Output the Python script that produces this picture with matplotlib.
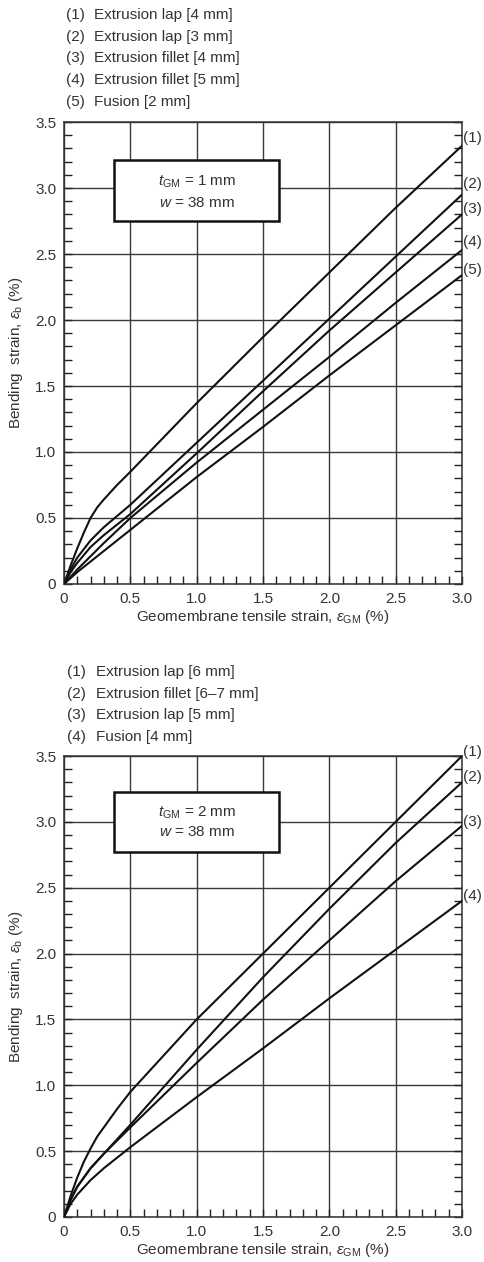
import numpy as np
import matplotlib
matplotlib.use("Agg")
import matplotlib.pyplot as plt
from matplotlib.ticker import MultipleLocator, FuncFormatter
from matplotlib.patches import Rectangle

plt.rcParams['font.family'] = ['Liberation Sans', 'DejaVu Sans']
plt.rcParams['mathtext.fontset'] = 'custom'
plt.rcParams['mathtext.rm'] = 'Liberation Sans'
plt.rcParams['mathtext.it'] = 'Liberation Sans:italic'
plt.rcParams['mathtext.bf'] = 'Liberation Sans:bold'

TXT = '#333333'
FS = 11

# ---- top chart: t_GM = 1 mm ----
top_legend = ['Extrusion lap [4 mm]', 'Extrusion lap [3 mm]', 'Extrusion fillet [4 mm]',
              'Extrusion fillet [5 mm]', 'Fusion [2 mm]']
top_x = [
    [0, 0.05, 0.1, 0.15, 0.2, 0.25, 0.3, 0.4, 0.5, 1.0, 1.5, 2.0, 2.5, 3.0],
    [0, 0.05, 0.1, 0.2, 0.3, 0.5, 1.0, 1.5, 2.0, 2.5, 3.0],
    [0, 0.05, 0.1, 0.2, 0.3, 0.5, 1.0, 1.5, 2.0, 2.5, 3.0],
    [0, 0.1, 0.2, 0.3, 0.5, 1.0, 1.5, 2.0, 2.5, 3.0],
    [0, 0.1, 0.2, 0.3, 0.5, 1.0, 1.5, 2.0, 2.5, 3.0],
]
top_y = [
    [0, 0.14, 0.27, 0.39, 0.50, 0.58, 0.64, 0.75, 0.85, 1.37, 1.87, 2.36, 2.85, 3.32],
    [0, 0.11, 0.20, 0.33, 0.43, 0.60, 1.07, 1.54, 2.01, 2.48, 2.95],
    [0, 0.09, 0.16, 0.28, 0.37, 0.53, 0.99, 1.46, 1.92, 2.36, 2.80],
    [0, 0.11, 0.21, 0.31, 0.50, 0.92, 1.32, 1.72, 2.13, 2.53],
    [0, 0.09, 0.17, 0.25, 0.41, 0.81, 1.19, 1.58, 1.96, 2.34],
]
top_tag_y = [3.38, 3.03, 2.84, 2.59, 2.38]

# ---- bottom chart: t_GM = 2 mm ----
bot_legend = ['Extrusion lap [6 mm]', 'Extrusion fillet [6\u20137 mm]',
              'Extrusion lap [5 mm]', 'Fusion [4 mm]']
bot_x = [
    [0, 0.05, 0.1, 0.15, 0.2, 0.25, 0.3, 0.4, 0.5, 1.0, 1.5, 2.0, 2.5, 3.0],
    [0, 0.05, 0.1, 0.2, 0.3, 0.5, 1.0, 1.5, 2.0, 2.5, 3.0],
    [0, 0.05, 0.1, 0.2, 0.3, 0.5, 1.0, 1.5, 2.0, 2.5, 3.0],
    [0, 0.05, 0.1, 0.2, 0.3, 0.5, 1.0, 1.5, 2.0, 2.5, 3.0],
]
bot_y = [
    [0, 0.16, 0.30, 0.42, 0.52, 0.61, 0.68, 0.82, 0.95, 1.50, 2.00, 2.50, 3.00, 3.50],
    [0, 0.13, 0.23, 0.37, 0.48, 0.70, 1.27, 1.82, 2.34, 2.84, 3.30],
    [0, 0.13, 0.23, 0.37, 0.48, 0.68, 1.17, 1.65, 2.10, 2.55, 2.97],
    [0, 0.10, 0.17, 0.28, 0.37, 0.53, 0.91, 1.28, 1.66, 2.03, 2.40],
]
bot_tag_y = [3.53, 3.34, 3.00, 2.44]

W, H = 484, 1262
fig = plt.figure(figsize=(W / 100, H / 100), dpi=100)


def fmt(v, pos):
    return '0' if abs(v) < 1e-9 else '%.1f' % v


def draw(ax, xs, ys, tag_y, box_y, t_txt):
    ax.set_xlim(0, 3.0)
    ax.set_ylim(0, 3.5)
    ax.xaxis.set_major_locator(MultipleLocator(0.5))
    ax.yaxis.set_major_locator(MultipleLocator(0.5))
    ax.xaxis.set_minor_locator(MultipleLocator(0.1))
    ax.yaxis.set_minor_locator(MultipleLocator(0.1))
    ax.xaxis.set_major_formatter(FuncFormatter(fmt))
    ax.yaxis.set_major_formatter(FuncFormatter(fmt))
    ax.tick_params(which='both', direction='in', top=False, right=True,
                   length=6, width=1.0, color='#222222')
    ax.tick_params(axis='both', which='major', labelsize=FS, labelcolor=TXT)
    ax.tick_params(axis='x', which='major', pad=5.5)
    ax.tick_params(axis='y', which='major', pad=5.5)
    ax.grid(True, which='major', color='#3a3a3a', lw=1.0)
    for s in ax.spines.values():
        s.set_color('#333333')
        s.set_linewidth(1.1)

    for x, y in zip(xs, ys):
        ax.plot(x, y, color='#111111', lw=1.5, zorder=4)

    for i, ty in enumerate(tag_y):
        ax.annotate('(%d)' % (i + 1), xy=(3.0, ty), xytext=(1, 0),
                    textcoords='offset points', ha='left', va='center',
                    fontsize=FS, color=TXT, annotation_clip=False)

    ax.add_patch(Rectangle((0.377, box_y[0]), 1.243, box_y[1] - box_y[0],
                           facecolor='white', edgecolor='#111111', lw=1.8, zorder=3))
    ax.text(1.0, box_y[2], t_txt, ha='center', va='center', fontsize=FS,
            color=TXT, zorder=5)
    ax.text(1.0, box_y[3], r'$w$ = 38 mm', ha='center', va='center', fontsize=FS,
            color=TXT, zorder=5)

    ax.set_xlabel(r'Geomembrane tensile strain, $\varepsilon_{\mathrm{GM}}$ (%)',
                  fontsize=FS, color=TXT, labelpad=2)
    ax.set_ylabel(r'Bending  strain, $\varepsilon_{\mathrm{b}}$ (%)',
                  fontsize=FS, color=TXT)
    ax.yaxis.set_label_coords(-0.098, 0.5)


ax1 = fig.add_axes([64 / W, 1 - 584 / H, 398 / W, 462 / H])
draw(ax1, top_x, top_y, top_tag_y, (2.75, 3.21, 3.05, 2.89),
     r'$t_{\mathrm{GM}}$ = 1 mm')

ax2 = fig.add_axes([64 / W, 1 - 1217 / H, 398 / W, 461 / H])
draw(ax2, bot_x, bot_y, bot_tag_y, (2.77, 3.23, 3.07, 2.92),
     r'$t_{\mathrm{GM}}$ = 2 mm')

# legends above each chart
for i, name in enumerate(top_legend):
    yy = 1 - (15 + i * 21.7) / H
    fig.text(66 / W, yy, '(%d)' % (i + 1), fontsize=FS, color=TXT, va='center')
    fig.text(94 / W, yy, name, fontsize=FS, color=TXT, va='center')

for i, name in enumerate(bot_legend):
    yy = 1 - (672 + i * 21.7) / H
    fig.text(67 / W, yy, '(%d)' % (i + 1), fontsize=FS, color=TXT, va='center')
    fig.text(96 / W, yy, name, fontsize=FS, color=TXT, va='center')

fig.savefig('out.png', dpi=100, facecolor='white')
